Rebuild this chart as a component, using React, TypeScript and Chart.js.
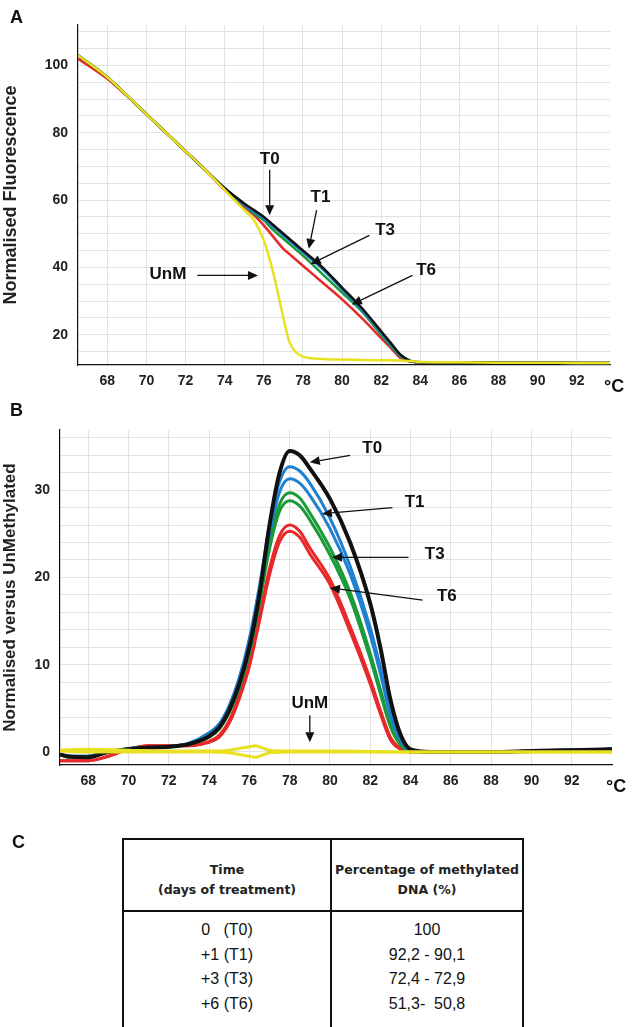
import React, { useEffect, useRef } from "react";
import { Chart, registerables } from "chart.js";
Chart.register(...registerables);

// ---- Panel A data (temperature °C, normalised fluorescence)
const aX = [66.5, 68, 70, 72, 73, 74, 75, 75.5, 76, 76.5, 77, 77.3, 77.6, 78, 79, 80, 81, 82, 82.5, 83, 83.5, 84, 86, 88, 90, 92, 93.7];
const aT0 = [103, 96.5, 85.5, 74.5, 69, 63.5, 59, 57, 55, 52.5, 50, 48.5, 47, 45, 40, 34, 28, 21, 17.5, 14, 12.2, 11.8, 11.8, 11.7, 11.7, 11.6, 11.6];
const aT1 = [103, 96.5, 85.5, 74.5, 69, 63.5, 58.5, 56.5, 54.5, 52, 49.5, 48, 46.5, 44.5, 39.5, 33.5, 27.5, 20.5, 17, 13.8, 12.2, 11.8, 11.8, 11.7, 11.7, 11.6, 11.6];
const aT3 = [103, 96.5, 85.5, 74.5, 69, 63.5, 58.5, 56, 54, 51, 48.5, 47, 45.5, 43.5, 38, 32.5, 27, 20, 16.5, 13.5, 12.1, 11.8, 11.8, 11.7, 11.7, 11.6, 11.6];
const aT6 = [102, 96, 85.5, 74.5, 69, 63, 58, 55.5, 52.5, 49, 45.5, 44, 42.5, 40.5, 35.5, 30.5, 25, 19, 16, 13, 12, 11.8, 11.8, 11.7, 11.7, 11.6, 11.6];
const aUnM = [103, 96.5, 85.5, 74.5, 69, 63, 57, 54, 48, 38, 25, 18, 15, 13.5, 12.8, 12.6, 12.5, 12.4, 12.4, 12.3, 12.2, 11.9, 11.8, 11.7, 11.7, 11.6, 11.6];

// ---- Panel B data (normalised versus unmethylated)
const bX = [66.6, 67, 68, 69, 70, 71, 72, 73, 74, 74.5, 75, 75.5, 76, 76.5, 77, 77.5, 78, 78.5, 79, 80, 81, 82, 82.5, 83, 83.5, 84, 85, 88, 90, 92, 94];
const bT0 = [-0.3, -0.5, -0.6, 0, 0.3, 0.5, 0.6, 0.9, 1.8, 2.8, 4.8, 7.8, 12, 18, 26, 32, 34.5, 34, 32.5, 29, 24, 17, 12, 6, 2, 0.3, 0, 0, 0.1, 0.2, 0.3];
const bT1a = [-0.3, -0.5, -0.5, 0, 0.4, 0.5, 0.6, 1, 2.2, 3.2, 5.3, 8.5, 13, 19, 26, 31, 32.7, 32.2, 30.8, 26.8, 21.3, 14.2, 9.7, 4.7, 1.5, 0.2, 0, 0, 0.1, 0.2, 0.3];
const bT1b = [-0.3, -0.5, -0.5, 0, 0.4, 0.5, 0.6, 1, 2.1, 3.1, 5.2, 8.3, 12.7, 18.5, 25, 29.8, 31.3, 30.8, 29.4, 25.6, 20.4, 13.4, 9, 4.2, 1.3, 0.2, 0, 0, 0.1, 0.2, 0.3];
const bT3a = [-0.3, -0.6, -0.5, 0, 0.3, 0.5, 0.6, 0.9, 1.8, 2.7, 4.7, 7.6, 11.7, 17.5, 24, 28.4, 29.7, 29.1, 27.4, 23.4, 18.3, 11.3, 7.2, 3.2, 0.9, 0.1, 0, 0, 0.1, 0.2, 0.3];
const bT3b = [-0.3, -0.6, -0.5, 0, 0.3, 0.5, 0.6, 0.9, 1.7, 2.6, 4.5, 7.3, 11.3, 17, 23.3, 27.6, 28.8, 28.2, 26.6, 22.6, 17.6, 10.7, 6.7, 2.9, 0.8, 0.1, 0, 0, 0.1, 0.2, 0.3];
const bT6a = [-1, -1, -1, -0.5, 0.3, 0.7, 0.7, 0.7, 1.2, 1.9, 3.6, 6.5, 10.2, 15.5, 21, 24.8, 26, 25.3, 23.4, 19.8, 14.4, 8.3, 4.8, 1.7, 0.4, 0, 0, 0, 0.1, 0.2, 0.3];
const bT6b = [-1, -1, -1, -0.5, 0.3, 0.7, 0.7, 0.7, 1.1, 1.7, 3.3, 6.1, 9.8, 15, 20.3, 24.1, 25.3, 24.6, 22.7, 19.2, 13.8, 7.8, 4.4, 1.4, 0.3, 0, 0, 0, 0.1, 0.2, 0.3];
const bUnMX = [66.6, 68, 70, 72, 74, 75, 75.5, 76, 76.3, 76.6, 77, 78, 80, 84, 88, 94];
const bUnMa = [0.2, 0.3, 0.2, 0.1, 0.1, 0.2, 0.4, 0.6, 0.7, 0.5, 0.2, 0.1, 0.1, 0, 0, 0];
const bUnMb = [0.1, 0, 0, 0, 0, -0.1, -0.3, -0.5, -0.6, -0.4, -0.1, 0, 0, 0, 0, 0];

// ---- Annotations [label, labelX, labelY, arrowFromX, arrowFromY, arrowToX, arrowToY]
const aNotes: [string, number, number, number, number, number, number][] = [
  ["T0", 76.3, 72, 76.3, 69, 76.3, 55.5],
  ["T1", 78.9, 60.7, 78.7, 57, 78.3, 45.5],
  ["T3", 82.2, 51, 81.4, 49.5, 78.4, 41],
  ["T6", 84.3, 39, 83.6, 37.6, 80.5, 29],
  ["UnM", 71.1, 38, 72.6, 37.6, 75.7, 37.6],
];
const bNotes: [string, number, number, number, number, number, number][] = [
  ["T0", 82.1, 34.8, 81, 34, 79, 33.2],
  ["T1", 84.2, 28.6, 83.1, 28, 79.6, 27.3],
  ["T3", 85.2, 22.6, 83.9, 22.3, 80.1, 22.3],
  ["T6", 85.8, 17.8, 84.6, 17.4, 80, 18.8],
  ["UnM", 79, 5.6, 79, 4.2, 79, 1.1],
];
const xTicks = [68, 70, 72, 74, 76, 78, 80, 82, 84, 86, 88, 90, 92];
const tableHead = ["Time\n(days of treatment)", "Percentage of methylated\nDNA (%)"];
const tableRows = [["0\u00a0\u00a0\u00a0(T0)", "100"], ["+1 (T1)", "92,2 - 90,1"], ["+3 (T3)", "72,4 - 72,9"], ["+6 (T6)", "51,3-  50,8"]];

const FONT = "Liberation Sans, Arial, sans-serif";
const pts = (xs: number[], ys: number[]) => xs.map((x, i) => ({ x, y: ys[i] }));

function notesPlugin(notes: typeof aNotes, fontSize: number) {
  return {
    id: "notes",
    afterDatasetsDraw(chart: any) {
      const { ctx, scales, chartArea } = chart;
      const sx = scales.x, sy = scales.y;
      ctx.save();
      ctx.fillStyle = "#111";
      ctx.strokeStyle = "#111";
      ctx.font = `bold ${fontSize}px ${FONT}`;
      ctx.textAlign = "center";
      ctx.textBaseline = "middle";
      for (const [t, lx, ly, fx, fy, tx, ty] of notes) {
        ctx.fillText(t, sx.getPixelForValue(lx), sy.getPixelForValue(ly));
        const x1 = sx.getPixelForValue(fx), y1 = sy.getPixelForValue(fy);
        const x2 = sx.getPixelForValue(tx), y2 = sy.getPixelForValue(ty);
        const ang = Math.atan2(y2 - y1, x2 - x1);
        const hl = 10, hw = 4.5;
        ctx.lineWidth = 1.3;
        ctx.beginPath();
        ctx.moveTo(x1, y1);
        ctx.lineTo(x2 - hl * Math.cos(ang), y2 - hl * Math.sin(ang));
        ctx.stroke();
        ctx.beginPath();
        ctx.moveTo(x2, y2);
        ctx.lineTo(x2 - hl * Math.cos(ang) - hw * Math.sin(ang), y2 - hl * Math.sin(ang) + hw * Math.cos(ang));
        ctx.lineTo(x2 - hl * Math.cos(ang) + hw * Math.sin(ang), y2 - hl * Math.sin(ang) - hw * Math.cos(ang));
        ctx.closePath();
        ctx.fill();
      }
      ctx.font = `bold 18px ${FONT}`;
      ctx.textAlign = "left";
      ctx.fillText("°C", chartArea.right - 6, chartArea.bottom + 22);
      ctx.restore();
    },
  };
}

function makeChart(canvas: HTMLCanvasElement, cfg: any) {
  const { datasets, xmin, xmax, ymin, ymax, ystep, ylabelEvery, title, yWidth, pad, notes, titleSize } = cfg;
  return new Chart(canvas, {
    type: "line",
    data: { datasets },
    options: {
      animation: false,
      responsive: false,
      events: [],
      layout: { padding: pad },
      plugins: { legend: { display: false }, tooltip: { enabled: false } },
      elements: { point: { radius: 0 }, line: { tension: 0.4, cubicInterpolationMode: "monotone" } },
      scales: {
        x: {
          type: "linear",
          min: xmin,
          max: xmax,
          afterBuildTicks: (s: any) => { s.ticks = xTicks.map((v) => ({ value: v })); },
          afterFit: (s: any) => { s.height = 35; },
          grid: { color: "#e2e2e2", drawTicks: false },
          border: { color: "#111", width: 1.2 },
          ticks: { color: "#222", autoSkip: false, maxRotation: 0, font: { family: FONT, weight: "bold", size: 14 }, padding: 8 },
        },
        y: {
          min: ymin,
          max: ymax,
          afterBuildTicks: (s: any) => {
            const t = [];
            for (let v = Math.ceil(ymin / ystep) * ystep; v <= ymax; v += ystep) t.push({ value: v });
            s.ticks = t;
          },
          afterFit: (s: any) => { s.width = yWidth; },
          grid: { color: "#e2e2e2", drawTicks: false },
          border: { color: "#111", width: 1.2 },
          ticks: {
            color: "#222",
            autoSkip: false,
            font: { family: FONT, weight: "bold", size: 14 },
            padding: 10,
            callback: (v: number) => (Math.abs(v % ylabelEvery) < 1e-6 ? String(v) : ""),
          },
          title: { display: true, text: title, color: "#222", font: { family: FONT, weight: "bold", size: titleSize }, padding: 0 },
        },
      },
    },
    plugins: [notesPlugin(notes, 17)],
  } as any);
}

export default function App() {
  const refA = useRef<HTMLCanvasElement>(null);
  const refB = useRef<HTMLCanvasElement>(null);
  useEffect(() => {
    const dsA = (d: number[], c: string) => ({ data: pts(aX, d), borderColor: c, borderWidth: 2.5 });
    const chartA = makeChart(refA.current!, {
      datasets: [dsA(aUnM, "#e8e020"), dsA(aT0, "#111111"), dsA(aT1, "#1f7fd0"), dsA(aT3, "#1a9a3a"), dsA(aT6, "#e8282a")],
      xmin: 66.5, xmax: 93.7, ymin: 11, ymax: 112, ystep: 5, ylabelEvery: 20,
      title: "Normalised Fluorescence", yWidth: 78, pad: { left: 0, top: 25, right: 22, bottom: 0 }, notes: aNotes, titleSize: 18,
    });
    const dsB = (xs: number[], d: number[], c: string, w = 3) => ({ data: pts(xs, d), borderColor: c, borderWidth: w });
    const chartB = makeChart(refB.current!, {
      datasets: [
        dsB(bUnMX, bUnMa, "#e8e020", 3), dsB(bUnMX, bUnMb, "#e8e020", 3),
        dsB(bX, bT0, "#111111", 4),
        dsB(bX, bT1a, "#1f7fd0"), dsB(bX, bT1b, "#1f7fd0"),
        dsB(bX, bT3a, "#1a9a3a"), dsB(bX, bT3b, "#1a9a3a"),
        dsB(bX, bT6a, "#e8282a"), dsB(bX, bT6b, "#e8282a"),
      ],
      xmin: 66.6, xmax: 94, ymin: -1.5, ymax: 36.9, ystep: 2, ylabelEvery: 10,
      title: "Normalised versus UnMethylated", yWidth: 60, pad: { left: 0, top: 30, right: 20, bottom: 0 }, notes: bNotes, titleSize: 17,
    });
    return () => { chartA.destroy(); chartB.destroy(); };
  }, []);

  const letter: React.CSSProperties = { position: "absolute", font: `bold 18px ${FONT}`, color: "#111" };
  const head: React.CSSProperties = { textAlign: "center", padding: "10px 0 0 0", whiteSpace: "pre", font: `bold 12.5px "DejaVu Sans", sans-serif`, lineHeight: "20px", color: "#222", borderBottom: "2px solid #111" };
  const body: React.CSSProperties = { textAlign: "center", padding: 0, whiteSpace: "pre", font: `16px ${FONT}`, color: "#111", height: 24.5 };
  return (
    <div style={{ position: "absolute", left: 0, top: 0, width: 632, height: 1027, overflow: "hidden", background: "#fff" }}>
      <canvas ref={refA} width={632} height={400} style={{ position: "absolute", left: 0, top: 0 }} />
      <canvas ref={refB} width={632} height={400} style={{ position: "absolute", left: 0, top: 400 }} />
      <div style={{ ...letter, left: 10, top: 7 }}>A</div>
      <div style={{ ...letter, left: 10, top: 400 }}>B</div>
      <div style={{ ...letter, left: 12, top: 832 }}>C</div>
      <table style={{ position: "absolute", left: 122, top: 838, width: 402, tableLayout: "fixed", borderCollapse: "collapse", borderTop: "2px solid #111", borderLeft: "2px solid #111", borderRight: "2px solid #111" }}>
        <tbody>
          <tr style={{ height: 72 }}>
            <td style={{ ...head, width: 206, borderRight: "2px solid #111" }}>{tableHead[0]}</td>
            <td style={head}>{tableHead[1]}</td>
          </tr>
          {tableRows.map((r, i) => (
            <tr key={i}>
              <td style={{ ...body, borderRight: "2px solid #111", paddingTop: i === 0 ? 6 : 0 }}>{r[0]}</td>
              <td style={{ ...body, paddingTop: i === 0 ? 6 : 0 }}>{r[1]}</td>
            </tr>
          ))}
          <tr style={{ height: 40 }}><td style={{ borderRight: "2px solid #111" }} /><td /></tr>
        </tbody>
      </table>
    </div>
  );
}
